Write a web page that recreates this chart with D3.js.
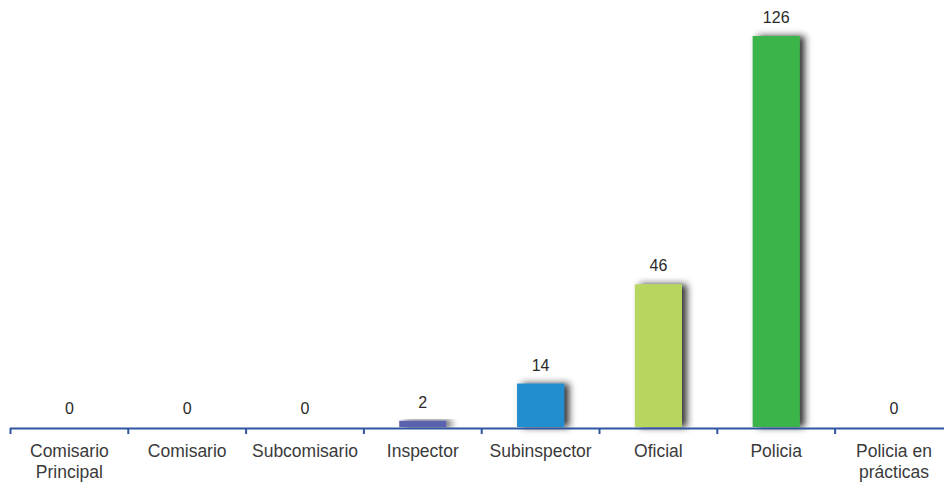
<!DOCTYPE html>
<html>
<head>
<meta charset="utf-8">
<script src="https://cdn.jsdelivr.net/npm/d3@7"></script>
<style>
  html, body { margin: 0; padding: 0; background: #fff; }
  svg { display: block; }
  text { font-family: "Liberation Sans", Arial, sans-serif; }
</style>
</head>
<body>
<svg id="chart" width="944" height="485"></svg>
<script>
const categories = ["Comisario Principal", "Comisario", "Subcomisario", "Inspector", "Subinspector", "Oficial", "Policia", "Policia en prácticas"];
const values = [0, 0, 0, 2, 14, 46, 126, 0];
const colors = ["#5a62ad", "#5a62ad", "#5a62ad", "#5a62ad", "#238dcf", "#b6d65f", "#3ab54a", "#3ab54a"];

const svg = d3.select("#chart");
const W = 944, H = 485;
const axisY = 427;

const x = d3.scaleBand().domain(categories).range([10.5, 10.5 + 8 * 117.8]).paddingInner(0.6).paddingOuter(0.3);
const y = d3.scaleLinear().domain([0, 126]).range([axisY, 36]);

const defs = svg.append("defs");
const f = defs.append("filter").attr("id", "shadow").attr("x", "-50%").attr("y", "-20%").attr("width", "200%").attr("height", "140%");
f.append("feDropShadow").attr("dx", 5).attr("dy", 0).attr("stdDeviation", 3.5).attr("flood-color", "#1a1a1a").attr("flood-opacity", 0.9);

const data = categories.map((c, i) => ({ c, v: values[i], col: colors[i] }));

svg.selectAll("rect.bar").data(data.filter(d => d.v > 0)).enter().append("rect")
  .attr("class", "bar")
  .attr("x", d => x(d.c))
  .attr("width", x.bandwidth())
  .attr("y", d => y(d.v))
  .attr("height", d => y(0) - y(d.v))
  .attr("fill", d => d.col)
  .attr("filter", "url(#shadow)");

// value labels
svg.selectAll("text.val").data(data).enter().append("text")
  .attr("class", "val")
  .attr("x", d => x(d.c) + x.bandwidth() / 2)
  .attr("y", d => y(d.v) - 13)
  .attr("text-anchor", "middle")
  .attr("font-size", 16)
  .attr("fill", "#2a2a2a")
  .text(d => d.v);

// axis line
const axisColor = "#2f55a0";
svg.append("line")
  .attr("x1", 10).attr("x2", W)
  .attr("y1", axisY + 1.5).attr("y2", axisY + 1.5)
  .attr("stroke", axisColor).attr("stroke-width", 2.2);

// ticks at band boundaries
const step = x.step();
const start = x(categories[0]) - step * x.paddingOuter();
svg.selectAll("line.tick").data(d3.range(categories.length + 1)).enter().append("line")
  .attr("class", "tick")
  .attr("x1", i => start + i * step).attr("x2", i => start + i * step)
  .attr("y1", axisY + 1).attr("y2", axisY + 7)
  .attr("stroke", axisColor).attr("stroke-width", 2);

// category labels with wrapping
const labelG = svg.selectAll("text.cat").data(categories).enter().append("text")
  .attr("class", "cat")
  .attr("text-anchor", "middle")
  .attr("font-size", 17.5)
  .attr("fill", "#3a3a3a")
  .attr("x", d => x(d) + x.bandwidth() / 2)
  .attr("y", axisY + 30);

labelG.each(function(d) {
  const t = d3.select(this);
  const words = d.split(" ");
  let lines = [], line = [];
  const tmp = t.append("tspan");
  words.forEach(w => {
    line.push(w);
    tmp.text(line.join(" "));
    if (tmp.node().getComputedTextLength() > 108 && line.length > 1) {
      line.pop();
      lines.push(line.join(" "));
      line = [w];
    }
  });
  lines.push(line.join(" "));
  tmp.remove();
  lines.forEach((l, i) => {
    t.append("tspan").attr("x", t.attr("x")).attr("dy", i === 0 ? 0 : 21).text(l);
  });
});
</script>
</body>
</html>
